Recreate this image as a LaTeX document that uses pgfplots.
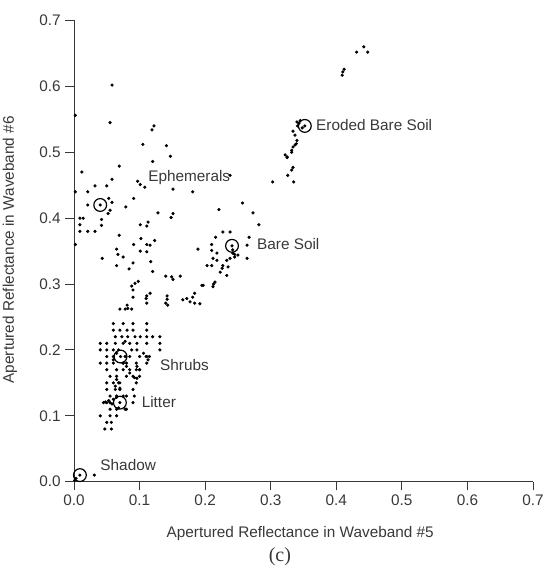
\documentclass[border=0pt]{standalone}
\usepackage{pgfplots}
\pgfplotsset{compat=1.18}
\usepackage{fontspec}
\setsansfont{Liberation Sans}
\newfontfamily\serifc{Liberation Serif}
\definecolor{ink}{rgb}{0.22,0.22,0.22}
\begin{document}
\begin{tikzpicture}
\begin{axis}[
  scale only axis, width=344.25pt, height=345.9pt,
  xmin=0, xmax=0.7, ymin=0, ymax=0.7,
  axis lines*=left, axis line style={-,ink,line width=0.7pt},
  xtick={0,0.1,0.2,0.3,0.4,0.5,0.6,0.7},
  ytick={0,0.1,0.2,0.3,0.4,0.5,0.6,0.7},
  tick align=outside, major tick length=6.5pt,
  tick style={ink,line width=0.7pt},
  ticklabel style={font=\sffamily\fontsize{11.5}{13}\selectfont, text=ink},
  /pgf/number format/assume math mode=true,
  /pgf/number format/.cd, fixed, fixed zerofill, precision=1, /pgfplots/.cd,
  clip=false,
]
% scattered data points
\addplot[only marks, mark=*, mark size=1.0pt, black] coordinates {
(0.058,0.602)(0.055,0.545)(0.119,0.534)(0.122,0.540)(0.105,0.512)(0.141,0.510)
(0.147,0.494)(0.120,0.486)(0.069,0.479)(0.012,0.470)(0.097,0.456)(0.101,0.451)
(0.108,0.447)(0.238,0.465)(0.058,0.459)(0.032,0.449)(0.050,0.449)(0.021,0.440)
(0.151,0.444)(0.181,0.440)(0.053,0.430)(0.091,0.430)(0.058,0.424)(0.021,0.420)
(0.079,0.417)(0.055,0.412)(0.052,0.407)(0.042,0.398)(0.128,0.408)(0.148,0.401)
(0.151,0.407)(0.221,0.413)(0.257,0.423)(0.273,0.408)(0.282,0.390)(0.303,0.455)
(0.009,0.400)(0.014,0.400)(0.009,0.390)(0.009,0.380)(0.021,0.380)(0.032,0.380)
(0.042,0.389)(0.101,0.390)(0.113,0.394)(0.111,0.388)(0.069,0.374)(0.102,0.369)
(0.123,0.366)(0.091,0.360)(0.111,0.360)(0.116,0.359)(0.065,0.353)(0.101,0.350)
(0.111,0.349)(0.067,0.345)(0.075,0.341)(0.043,0.339)(0.090,0.332)(0.117,0.334)
(0.065,0.328)(0.084,0.323)(0.120,0.319)(0.002,0.556)(0.002,0.440)(0.002,0.360)
(0.189,0.353)(0.210,0.360)(0.210,0.351)(0.216,0.371)(0.227,0.379)(0.238,0.379)
(0.267,0.371)(0.264,0.359)(0.264,0.339)(0.218,0.347)(0.212,0.339)(0.218,0.336)
(0.242,0.352)(0.242,0.347)(0.245,0.345)(0.233,0.336)(0.238,0.339)(0.245,0.341)
(0.250,0.344)(0.227,0.328)(0.226,0.324)(0.223,0.318)(0.203,0.328)(0.210,0.328)
(0.235,0.326)(0.233,0.313)(0.215,0.303)(0.212,0.296)(0.213,0.300)(0.197,0.298)
(0.162,0.312)(0.184,0.286)(0.181,0.280)(0.172,0.278)(0.166,0.276)(0.177,0.273)
(0.184,0.271)(0.192,0.270)(0.140,0.312)(0.149,0.311)(0.151,0.307)(0.195,0.298)
(0.098,0.304)(0.093,0.301)(0.088,0.297)(0.090,0.291)(0.090,0.280)(0.116,0.286)
(0.111,0.282)(0.110,0.278)(0.111,0.271)(0.142,0.282)(0.142,0.277)(0.140,0.271)
(0.143,0.268)(0.081,0.268)(0.082,0.263)(0.078,0.262)(0.088,0.262)(0.070,0.262)
(0.325,0.493)(0.332,0.500)(0.334,0.477)(0.332,0.473)(0.326,0.465)(0.335,0.455)
(0.431,0.652)(0.442,0.660)(0.448,0.652)(0.409,0.617)(0.410,0.622)(0.412,0.626)
(0.343,0.544)(0.341,0.540)(0.348,0.537)(0.345,0.548)(0.340,0.546)(0.334,0.532)
(0.337,0.526)(0.340,0.518)(0.334,0.508)(0.332,0.503)(0.337,0.511)(0.339,0.513)
(0.322,0.496)(0.325,0.492)
(0.060,0.240)(0.075,0.240)(0.090,0.240)(0.111,0.240)
(0.060,0.230)(0.070,0.230)(0.081,0.230)(0.090,0.230)(0.111,0.230)
(0.063,0.220)(0.073,0.220)(0.082,0.220)(0.093,0.220)(0.101,0.220)(0.111,0.220)(0.120,0.220)(0.131,0.220)
(0.040,0.210)(0.050,0.210)(0.063,0.210)(0.075,0.210)(0.085,0.210)(0.096,0.210)(0.111,0.210)(0.131,0.210)
(0.040,0.200)(0.050,0.200)(0.060,0.200)(0.088,0.200)(0.096,0.200)(0.131,0.200)
(0.050,0.190)(0.060,0.190)(0.078,0.190)(0.085,0.190)(0.100,0.190)(0.110,0.190)(0.115,0.190)
(0.040,0.180)(0.050,0.180)(0.060,0.180)(0.075,0.180)(0.080,0.180)(0.095,0.180)(0.111,0.180)
(0.050,0.170)(0.065,0.170)(0.075,0.170)(0.085,0.170)(0.095,0.170)(0.100,0.170)
(0.055,0.160)(0.065,0.160)(0.080,0.160)(0.090,0.160)(0.100,0.160)
(0.050,0.150)(0.060,0.150)(0.070,0.150)(0.095,0.150)
(0.050,0.140)(0.063,0.140)(0.070,0.140)(0.090,0.140)
(0.055,0.130)(0.065,0.130)(0.080,0.130)(0.092,0.130)
(0.045,0.120)(0.050,0.120)(0.055,0.120)(0.090,0.120)
(0.055,0.110)(0.065,0.110)(0.080,0.110)
(0.040,0.100)(0.055,0.100)(0.065,0.100)
(0.050,0.090)(0.057,0.090)(0.047,0.080)(0.057,0.080)
(0.106,0.195)(0.111,0.190)(0.113,0.185)(0.092,0.158)(0.096,0.157)(0.096,0.175)(0.100,0.170)
(0.060,0.185)(0.065,0.195)(0.075,0.180)(0.080,0.175)(0.085,0.165)(0.068,0.200)(0.078,0.213)
(0.048,0.121)(0.053,0.123)(0.058,0.118)(0.060,0.125)(0.065,0.128)(0.068,0.112)(0.075,0.130)(0.078,0.110)
(0.063,0.145)(0.068,0.150)(0.070,0.142)(0.065,0.155)
(0.031,0.010)(0.001,0.002)(0.003,0.005)
};
% class centres
\addplot[only marks, mark=o, mark size=4.8pt, black, line width=0.9pt] coordinates {
(0.040,0.420)(0.241,0.358)(0.352,0.540)(0.071,0.190)(0.070,0.120)(0.009,0.010)
};
\addplot[only marks, mark=*, mark size=1.0pt, black] coordinates {
(0.040,0.420)(0.241,0.358)(0.352,0.540)(0.071,0.190)(0.070,0.120)(0.009,0.010)
};
\begin{scope}[every node/.style={font=\sffamily\fontsize{11.5}{13}\selectfont, text=ink, inner sep=0pt}]
\node[anchor=west] at (axis cs:0.113,0.462) {Ephemerals};
\node[anchor=west] at (axis cs:0.279,0.360) {Bare Soil};
\node[anchor=west] at (axis cs:0.369,0.541) {Eroded Bare Soil};
\node[anchor=west] at (axis cs:0.131,0.177) {Shrubs};
\node[anchor=west] at (axis cs:0.103,0.121) {Litter};
\node[anchor=west] at (axis cs:0.040,0.026) {Shadow};
\node at (axis cs:0.345,-0.078) {Apertured Reflectance in Waveband \#5};
\node[rotate=90] at (axis cs:-0.0976,0.352) {Apertured Reflectance in Waveband \#6};
\end{scope}
\node[font=\serifc\fontsize{15}{18}\selectfont, text=ink, inner sep=0pt] at (axis cs:0.314,-0.114) {(c)};
\end{axis}
\pgfresetboundingbox
\path (-55.5pt,-64.725pt) rectangle (353.25pt,361.275pt);
\end{tikzpicture}
\end{document}
